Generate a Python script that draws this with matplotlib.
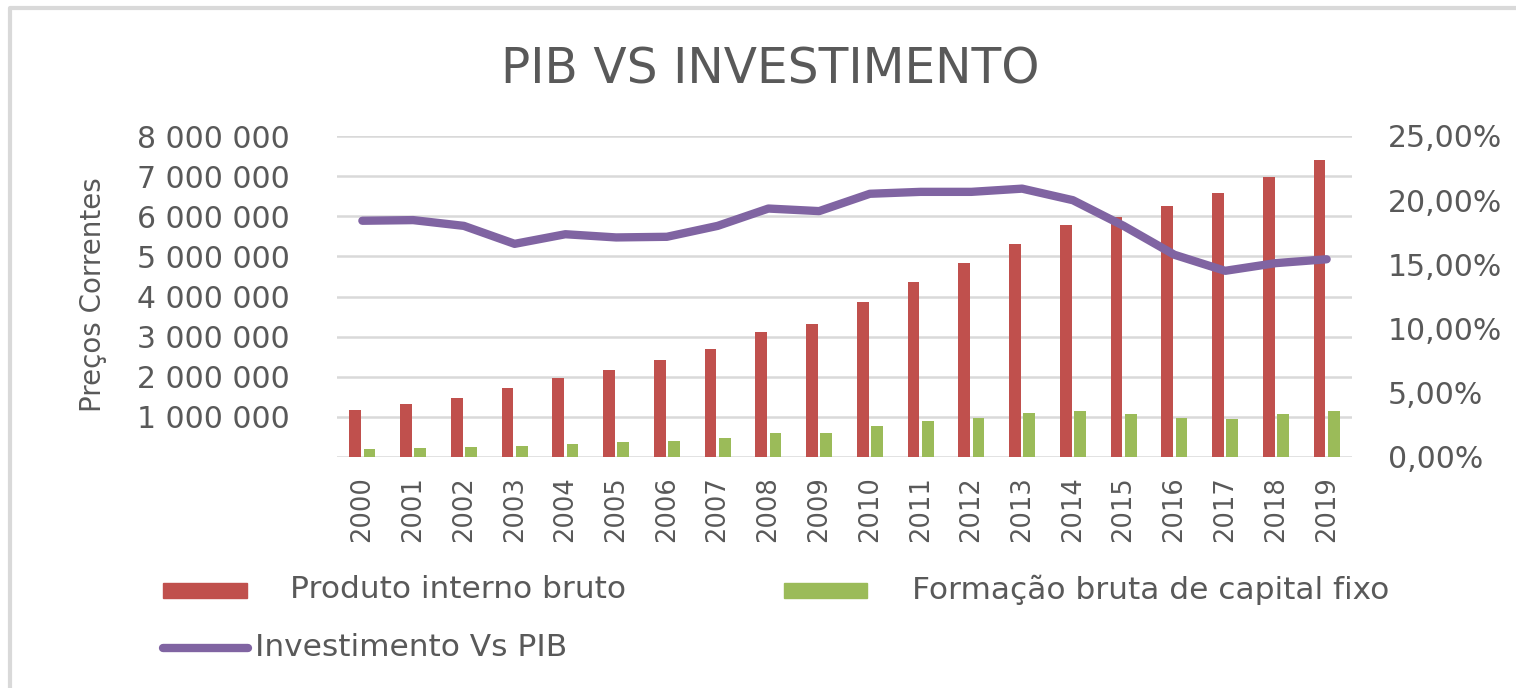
import matplotlib
matplotlib.use("Agg")
import matplotlib.pyplot as plt
from matplotlib.patches import Rectangle
from matplotlib.lines import Line2D
import numpy as np

years = [str(y) for y in range(2000, 2020)]
pib = [1.17, 1.31, 1.46, 1.71, 1.96, 2.16, 2.41, 2.70, 3.11, 3.31,
       3.87, 4.37, 4.83, 5.32, 5.77, 5.98, 6.26, 6.59, 6.99, 7.41]
fbcf = [0.19, 0.23, 0.24, 0.28, 0.32, 0.37, 0.41, 0.48, 0.61, 0.61,
        0.77, 0.90, 0.98, 1.10, 1.15, 1.06, 0.98, 0.94, 1.06, 1.15]
invest_pct = [18.4, 18.45, 18.0, 16.6, 17.35, 17.1, 17.15, 18.0, 19.35, 19.15,
              20.5, 20.65, 20.65, 20.9, 20.0, 18.0, 15.75, 14.5, 15.1, 15.4]

RED = "#C0504D"
GREEN = "#9BBB59"
PURPLE = "#8064A2"
TEXT = "#595959"
GRID = "#D9D9D9"

W, H = 1516, 688


def fx(px):
    return px / W


def fy(py):
    return 1 - py / H


def draw_chart():
    fig = plt.figure(figsize=(W / 100, H / 100), dpi=100)
    ax = fig.add_axes([fx(337), fy(457), fx(1352) - fx(337), fy(136) - fy(457)])

    x = np.arange(len(years))
    pib_vals = np.array(pib) * 1e6
    fbcf_vals = np.array(fbcf) * 1e6
    ax.bar(x - 0.14, pib_vals, width=0.23, color=RED, zorder=2)
    ax.bar(x + 0.14, fbcf_vals, width=0.23, color=GREEN, zorder=2)

    ax.set_xlim(-0.5, len(years) - 0.5)
    ax.set_ylim(0, 8e6)
    ax.set_yticks(np.arange(0, 8e6 + 1, 1e6))
    ax.set_yticklabels([""] + [f"{v:,.0f}".replace(",", " ")
                               for v in np.arange(1e6, 8e6 + 1, 1e6)])
    ax.yaxis.grid(True, color=GRID, linewidth=1.8, zorder=0)
    ax.set_axisbelow(True)
    ax.set_xticks(x)
    ax.set_xticklabels(years, rotation=90)
    ax.tick_params(axis="y", length=0, pad=34, labelsize=21.5, labelcolor=TEXT)
    ax.tick_params(axis="x", length=0, pad=14, labelsize=18.5, labelcolor=TEXT)
    for s in ax.spines.values():
        s.set_visible(False)

    ax2 = ax.twinx()
    ax2.plot(x, invest_pct, color=PURPLE, linewidth=6,
             solid_capstyle="round", solid_joinstyle="round", zorder=3)
    ax2.set_ylim(0, 25)
    ax2.set_yticks(np.arange(0, 26, 5))
    ax2.set_yticklabels([f"{v:.2f}%".replace(".", ",") for v in np.arange(0, 26, 5)])
    ax2.tick_params(axis="y", length=0, pad=26, labelsize=21.5, labelcolor=TEXT)
    for s in ax2.spines.values():
        s.set_visible(False)

    fig.text(fx(770), fy(70), "PIB VS INVESTIMENTO", fontsize=35, color=TEXT,
             ha="center", va="center")
    fig.text(fx(93), fy(295), "Preços Correntes", fontsize=20, color=TEXT,
             rotation=90, ha="center", va="center")

    # legend
    fig.add_artist(Rectangle((fx(163), fy(598)), fx(247) - fx(163), fy(583) - fy(598),
                             color=RED, transform=fig.transFigure))
    fig.text(fx(290), fy(590), "Produto interno bruto", fontsize=22.5, color=TEXT,
             va="center")
    fig.add_artist(Rectangle((fx(784), fy(598)), fx(867) - fx(784), fy(583) - fy(598),
                             color=GREEN, transform=fig.transFigure))
    fig.text(fx(912), fy(590), "Formação bruta de capital fixo", fontsize=22.5,
             color=TEXT, va="center")
    fig.add_artist(Line2D([fx(163), fx(248)], [fy(648), fy(648)], color=PURPLE,
                          linewidth=6, solid_capstyle="round",
                          transform=fig.transFigure))
    fig.text(fx(255), fy(648), "Investimento Vs PIB", fontsize=22.5, color=TEXT,
             va="center")

    # chart frame
    fig.add_artist(Line2D([fx(10), fx(10), fx(W + 5)], [fy(H + 5), fy(8), fy(8)],
                          color=GRID, linewidth=3, transform=fig.transFigure))

    fig.savefig("out.png", dpi=100)


draw_chart()
